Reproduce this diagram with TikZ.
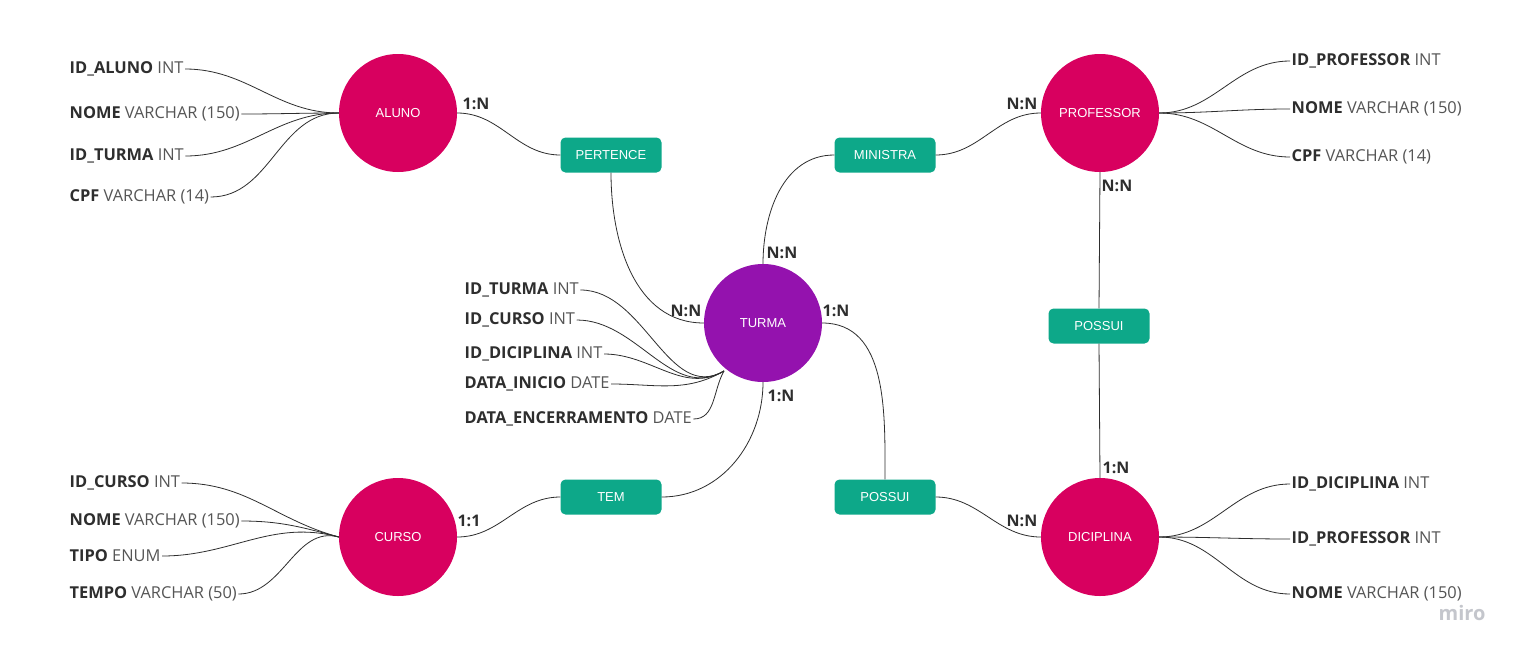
\documentclass[tikz,border=0pt]{standalone}
\usepackage{fontspec}
\setmainfont{Open Sans}
\newfontfamily\shapefont{Liberation Sans}
\usetikzlibrary{positioning}
\definecolor{erpink}{HTML}{D8005F}
\definecolor{erpurple}{HTML}{9412AE}
\definecolor{erteal}{HTML}{0DA889}
\definecolor{erdark}{HTML}{2E2E2E}
\definecolor{ergray}{HTML}{555555}
\definecolor{ermiro}{HTML}{C4C6CC}

\begin{document}
\begin{tikzpicture}[x=1pt, y=1pt,
    entity/.style={circle, fill=erpink, minimum size=118pt, inner sep=0pt, text=white, font=\shapefont\fontsize{13}{13}\selectfont},
    relation/.style={rectangle, rounded corners=5pt, fill=erteal, minimum width=101pt, minimum height=35pt, inner sep=0pt, text=white, font=\shapefont\fontsize{13}{13}\selectfont},
    attr/.style={anchor=west, inner sep=1.5pt, text=ergray, font=\fontsize{16.4}{17}\selectfont},
    card/.style={inner sep=0pt, text=erdark, font=\bfseries\fontsize{16}{16}\selectfont},
    link/.style={draw=erdark, line width=0.8pt}]
        \useasboundingbox[fill=white] (0,0) rectangle (1522,-656);

        % entities
        \node[entity] (aluno) at (398,-113) {ALUNO};
        \node[entity] (professor) at (1100,-113) {PROFESSOR};
        \node[entity, fill=erpurple] (turma) at (763,-323) {TURMA};
        \node[entity] (curso) at (398,-537) {CURSO};
        \node[entity] (diciplina) at (1100,-537) {DICIPLINA};

        % relationships
        \node[relation] (pertence) at (611,-155) {PERTENCE};
        \node[relation] (ministra) at (885,-155) {MINISTRA};
        \node[relation] (possuiA) at (1099,-326) {POSSUI};
        \node[relation] (tem) at (611,-497) {TEM};
        \node[relation] (possuiB) at (885,-497) {POSSUI};

        \draw [link] (aluno.east) to[out=0, in=180] (pertence.west);
        \draw [link] (pertence.south) to[out=270, in=180] (turma.west);
        \draw [link] (ministra.west) to[out=180, in=90] (turma.north);
        \draw [link] (ministra.east) to[out=0, in=180] (professor.west);
        \draw [link] (professor.south) -- (possuiA.north);
        \draw [link] (possuiA.south) -- (diciplina.north);
        \draw [link] (turma.east) to[out=0, in=90] (possuiB.north);
        \draw [link] (possuiB.east) to[out=0, in=180] (diciplina.west);
        \draw [link] (turma.south) to[out=270, in=0] (tem.east);
        \draw [link] (tem.west) to[out=180, in=0] (curso.east);

        % cardinalities
        \node[card] (c1) at (476,-104) {1:N};
        \node[card] (c2) at (686,-311) {N:N};
        \node[card] (c3) at (782,-253) {N:N};
        \node[card] (c4) at (1022,-104) {N:N};
        \node[card] (c5) at (1117,-186) {N:N};
        \node[card] (c6) at (1116,-468) {1:N};
        \node[card] (c7) at (836,-311) {1:N};
        \node[card] (c8) at (1022,-521) {N:N};
        \node[card] (c9) at (781,-396) {1:N};
        \node[card] (c10) at (469,-521) {1:1};

        % ALUNO attributes
        \node[attr] (al1) at (68,-69) {\textcolor{erdark}{\textbf{ID\_ALUNO}} INT};
        \node[attr] (al2) at (68,-114) {\textcolor{erdark}{\textbf{NOME}} VARCHAR (150)};
        \node[attr] (al3) at (68,-156) {\textcolor{erdark}{\textbf{ID\_TURMA}} INT};
        \node[attr] (al4) at (68,-197) {\textcolor{erdark}{\textbf{CPF}} VARCHAR (14)};
        \foreach \a in {al1,al2,al3,al4}
            \draw [link] (\a.east) to[out=0, in=180] (aluno.west);

        % CURSO attributes
        \node[attr] (cu1) at (68,-483) {\textcolor{erdark}{\textbf{ID\_CURSO}} INT};
        \node[attr] (cu2) at (68,-521) {\textcolor{erdark}{\textbf{NOME}} VARCHAR (150)};
        \node[attr] (cu3) at (68,-556) {\textcolor{erdark}{\textbf{TIPO}} ENUM};
        \node[attr] (cu4) at (68,-594) {\textcolor{erdark}{\textbf{TEMPO}} VARCHAR (50)};
        \foreach \a in {cu1,cu2,cu3,cu4}
            \draw [link] (\a.east) to[out=0, in=165] (curso.west);

        % TURMA attributes
        \coordinate (tj) at (724,-371);
        \node[attr] (tu1) at (463,-290) {\textcolor{erdark}{\textbf{ID\_TURMA}} INT};
        \node[attr] (tu2) at (463,-320) {\textcolor{erdark}{\textbf{ID\_CURSO}} INT};
        \node[attr] (tu3) at (463,-354) {\textcolor{erdark}{\textbf{ID\_DICIPLINA}} INT};
        \node[attr] (tu4) at (463,-384) {\textcolor{erdark}{\textbf{DATA\_INICIO}} DATE};
        \node[attr] (tu5) at (463,-419) {\textcolor{erdark}{\textbf{DATA\_ENCERRAMENTO}} DATE};
        \foreach \a in {tu1,tu2,tu3,tu4}
            \draw [link] (\a.east) to[out=0, in=210] (tj);
        \draw [link] (tu5.east) to[out=0, in=240] (tj);

        % PROFESSOR attributes
        \node[attr] (pr1) at (1290,-61) {\textcolor{erdark}{\textbf{ID\_PROFESSOR}} INT};
        \node[attr] (pr2) at (1290,-109) {\textcolor{erdark}{\textbf{NOME}} VARCHAR (150)};
        \node[attr] (pr3) at (1290,-157) {\textcolor{erdark}{\textbf{CPF}} VARCHAR (14)};
        \foreach \a in {pr1,pr2,pr3}
            \draw [link] (professor.east) to[out=0, in=180] (\a.west);

        % DICIPLINA attributes
        \node[attr] (di1) at (1290,-484) {\textcolor{erdark}{\textbf{ID\_DICIPLINA}} INT};
        \node[attr] (di2) at (1290,-539) {\textcolor{erdark}{\textbf{ID\_PROFESSOR}} INT};
        \node[attr] (di3) at (1290,-594) {\textcolor{erdark}{\textbf{NOME}} VARCHAR (150)};
        \foreach \a in {di1,di2,di3}
            \draw [link] (diciplina.east) to[out=0, in=180] (\a.west);

        \node[text=ermiro, font=\bfseries\fontsize{20}{20}\selectfont] (miro) at (1462,-613) {miro};
    \end{tikzpicture}
\end{document}
